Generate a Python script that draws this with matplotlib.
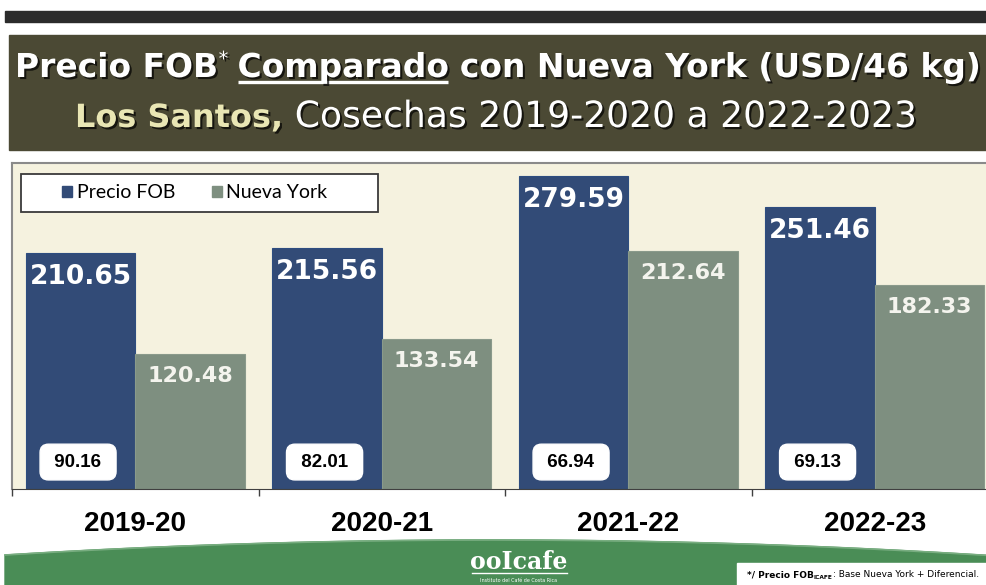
import matplotlib.pyplot as plt
import matplotlib.patheffects as pe
from matplotlib.patches import Rectangle, Polygon, Patch
import numpy as np

cosechas = ["2019-20", "2020-21", "2021-22", "2022-23"]
precio_fob = [210.65, 215.56, 279.59, 251.46]
nueva_york = [120.48, 133.54, 212.64, 182.33]
diferencial = [90.16, 82.01, 66.94, 69.13]

W, H = 986, 585
fig = plt.figure(figsize=(W / 100, H / 100), dpi=100)
fig.patch.set_facecolor("white")
renderer = fig.canvas.get_renderer()

# fondo en coordenadas de pixel
bg = fig.add_axes([0, 0, 1, 1], zorder=0)
bg.set_xlim(0, W)
bg.set_ylim(H, 0)
bg.axis("off")

bg.add_patch(Rectangle((5, 11), W - 5, 11, color="#2b2b2b"))
bg.add_patch(Rectangle((9, 35), W - 9, 115, color="#4b4934"))

# pie verde
xs = np.linspace(5, W, 200)
top = 540 + 15 * ((xs - 493) / 488) ** 2
pts = np.column_stack([np.r_[xs, W, 5], np.r_[top, H + 5, H + 5]])
bg.add_patch(Polygon(pts, closed=True, color="#4a8d56"))
bg.plot(xs, top, color="#78ad80", lw=1.2)

sombra = [pe.withSimplePatchShadow(offset=(1.5, -1.5), shadow_rgbFace="black", alpha=0.7)]


def pieza(x, y, s, **kw):
    t = bg.text(x, y, s, va="baseline", ha="left", path_effects=sombra, **kw)
    return x + t.get_window_extent(renderer).width


# titulo linea 1
fs = 23.7
x0 = pieza(15, 77, "Precio FOB", fontsize=fs, fontweight="bold", color="white")
x0 = pieza(x0 + 1, 65, "*", fontsize=14, color="white")
xc = x0 + 9
x0 = pieza(xc, 77, "Comparado", fontsize=fs, fontweight="bold", color="white")
bg.plot([xc, x0], [82, 82], color="white", lw=2.4, solid_capstyle="butt")
pieza(x0, 77, " con Nueva York (USD/46 kg)", fontsize=fs, fontweight="bold", color="white")

# titulo linea 2
x0 = pieza(75, 127, "Los Santos,", fontsize=23, fontweight="bold", color="#e9e6b4")
pieza(x0, 127, " Cosechas 2019-2020 a 2022-2023", fontsize=26, color="white")

# logo
bg.text(519, 569, "ooIcafe", ha="center", va="baseline", fontsize=17,
        family="DejaVu Serif", fontweight="bold", color="white")
bg.plot([472, 567], [573, 573], color="white", lw=1)
bg.text(519, 580, "Instituto del Café de Costa Rica", ha="center", va="center",
        fontsize=3.5, color="white")

# nota al pie
bg.add_patch(Rectangle((737, 563), W - 737, 25, color="white"))
x0 = bg.text(747, 577, "*/ Precio FOB", va="baseline", fontsize=6.5, fontweight="bold")
x1 = 747 + x0.get_window_extent(renderer).width
t = bg.text(x1, 579, "ICAFE", va="baseline", fontsize=4.2, fontweight="bold")
x1 += t.get_window_extent(renderer).width
bg.text(x1, 577, ": Base Nueva York + Diferencial.", va="baseline", fontsize=6.5)

# grafico
ax = fig.add_axes([12 / W, 1 - 489 / H, 986 / W, 326 / H], zorder=1)
ax.set_facecolor("#f5f2df")
x = np.arange(len(cosechas))
w = 0.444
ax.bar(x - w / 2, precio_fob, w, color="#324b77", edgecolor="#2d4d80", lw=0.8)
ax.bar(x + w / 2, nueva_york, w, color="#7e8f80", edgecolor="#8a9a8b", lw=0.8)
ax.set_xlim(-0.5, 3.5)
ax.set_ylim(0, 291)

for i in range(len(cosechas)):
    ax.annotate(f"{precio_fob[i]:.2f}", (x[i] - w / 2, precio_fob[i]), xytext=(0, -17.3),
                textcoords="offset points", ha="center", va="center", color="white",
                fontsize=19, fontweight="bold")
    ax.annotate(f"{nueva_york[i]:.2f}", (x[i] + w / 2, nueva_york[i]), xytext=(0, -15.8),
                textcoords="offset points", ha="center", va="center", color="#f4f4ee",
                fontsize=16, fontweight="bold")
    ax.annotate(f" {diferencial[i]:.2f} ", (x[i] - w / 2 - 0.01, 0), xytext=(0, 19.4),
                textcoords="offset points", ha="center", va="center", color="black",
                fontsize=13.5, fontweight="bold", family="Liberation Sans",
                bbox=dict(boxstyle="round,pad=0.5,rounding_size=0.45", fc="white", ec="white"))

ax.set_xticks(x, cosechas, fontsize=20, fontweight="bold", family="Liberation Sans")
ax.set_xticks([-0.5, 0.5, 1.5, 2.5, 3.5], minor=True)
ax.tick_params(axis="x", which="major", length=0, pad=15.5)
ax.tick_params(axis="x", which="minor", length=5, width=1, color="#404040")
ax.set_yticks([])
for s in ["left", "top"]:
    ax.spines[s].set_color("#8a8a8a")
    ax.spines[s].set_linewidth(1.5)
ax.spines["bottom"].set_color("#404040")
ax.spines["right"].set_visible(False)

# leyenda
ax.add_patch(Rectangle(((21 - 12) / W, (489 - 212) / 326), 357 / W, 38 / 326,
                       transform=ax.transAxes, fc="white", ec="#3a3a3a", lw=1.3, zorder=4))
handles = [Patch(color="#324b77", label="Precio FOB"), Patch(color="#7e8f80", label="Nueva York")]
leg = ax.legend(handles=handles, loc="center left", bbox_to_anchor=((62 - 12) / W, (489 - 193) / 326),
                ncol=2, frameon=False, borderpad=0, borderaxespad=0, handlelength=0.5,
                handleheight=0.5, handletextpad=0.25, columnspacing=1.9,
                prop={"family": "Lato", "size": 14})
leg.set_zorder(5)

fig.savefig("out.png", dpi=100)
